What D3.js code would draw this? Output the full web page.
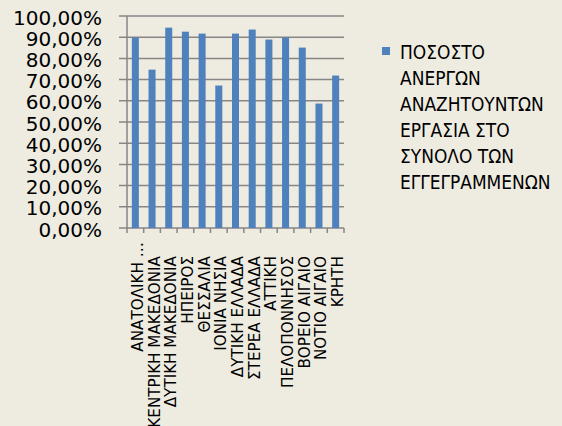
<!DOCTYPE html>
<html>
<head>
<meta charset="utf-8">
<script src="https://cdnjs.cloudflare.com/ajax/libs/d3/7.8.5/d3.min.js"></script>
<style>
  body { margin: 0; background: #eeece1; }
  svg { display: block; }
</style>
</head>
<body>
<div id="chart-area"></div>
<script>

// Data
let regions = ["ΑΝΑΤΟΛΙΚΗ …", "ΚΕΝΤΡΙΚΗ ΜΑΚΕΔΟΝΙΑ", "ΔΥΤΙΚΗ ΜΑΚΕΔΟΝΙΑ", "ΗΠΕΙΡΟΣ", "ΘΕΣΣΑΛΙΑ",
  "ΙΟΝΙΑ ΝΗΣΙΑ", "ΔΥΤΙΚΗ ΕΛΛΑΔΑ", "ΣΤΕΡΕΑ  ΕΛΛΑΔΑ", "ΑΤΤΙΚΗ", "ΠΕΛΟΠΟΝΝΗΣΟΣ",
  "ΒΟΡΕΙΟ ΑΙΓΑΙΟ", "ΝΟΤΙΟ ΑΙΓΑΙΟ", "ΚΡΗΤΗ"];
let shares = [0.898, 0.747, 0.945, 0.926, 0.917, 0.672, 0.917, 0.936, 0.889, 0.898, 0.851, 0.587, 0.719];
let yTicks = [0, 0.1, 0.2, 0.3, 0.4, 0.5, 0.6, 0.7, 0.8, 0.9, 1];
let legendLines = ["ΠΟΣΟΣΤΟ", "ΑΝΕΡΓΩΝ", "ΑΝΑΖΗΤΟΥΝΤΩΝ", "ΕΡΓΑΣΙΑ ΣΤΟ", "ΣΥΝΟΛΟ ΤΩΝ", "ΕΓΓΕΓΡΑΜΜΕΝΩΝ"];

let W = 562, H = 426;
let plot = {left: 127, right: 344, top: 16, bottom: 228};
let gridColor = "#868686";
let barColor = "#4f81bd";
let font = "'DejaVu Sans', sans-serif";
let narrowFont = "'DejaVu Sans Condensed', 'Liberation Sans Narrow', 'DejaVu Sans', sans-serif";

let svg = d3.select("#chart-area")
  .append("svg")
  .attr("width", W)
  .attr("height", H)
  .style("background", "#eeece1");

let greek = d3.formatLocale({decimal: ",", thousands: ".", grouping: [3], currency: ["", "€"]});
let pct = greek.format(".2%");

// Scales
let x = d3.scaleBand()
  .domain(regions)
  .range([plot.left, plot.right])
  .paddingInner(0.58)
  .paddingOuter(0.29);

let y = d3.scaleLinear()
  .domain([0, 1])
  .range([plot.bottom, plot.top]);

// Gridlines + y ticks
svg.append("g")
  .selectAll("line")
  .data(yTicks)
  .enter()
  .append("line")
  .attr("x1", plot.left - 8)
  .attr("x2", plot.right)
  .attr("y1", d => y(d))
  .attr("y2", d => y(d))
  .attr("stroke", gridColor)
  .attr("stroke-width", 1.5);

svg.append("g")
  .selectAll("text")
  .data(yTicks)
  .enter()
  .append("text")
  .attr("x", 102)
  .attr("y", d => y(d) + 8.5)
  .attr("text-anchor", "end")
  .style("font-family", font)
  .style("font-size", "20px")
  .attr("fill", "#000")
  .text(d => pct(d));

// Bars
svg.append("g")
  .selectAll("rect")
  .data(shares)
  .enter()
  .append("rect")
  .attr("x", (d, i) => x(regions[i]))
  .attr("y", d => y(d))
  .attr("width", x.bandwidth())
  .attr("height", d => y(0) - y(d))
  .attr("fill", barColor);

// y axis line
svg.append("line")
  .attr("x1", plot.left).attr("x2", plot.left)
  .attr("y1", plot.top).attr("y2", plot.bottom)
  .attr("stroke", gridColor).attr("stroke-width", 1.5);

// x ticks at category boundaries
let step = x.step();
let bounds = d3.range(regions.length + 1).map(i => plot.left + i * step);
svg.append("g")
  .selectAll("line")
  .data(bounds)
  .enter()
  .append("line")
  .attr("x1", d => d).attr("x2", d => d)
  .attr("y1", plot.bottom).attr("y2", plot.bottom + 5)
  .attr("stroke", gridColor).attr("stroke-width", 1.5);

// x labels via axis
let xAxis = d3.axisBottom(x).tickSize(0).tickPadding(0);
let gx = svg.append("g")
  .attr("transform", "translate(0," + plot.bottom + ")")
  .call(xAxis);
gx.select(".domain").remove();
gx.selectAll("text")
  .attr("transform", "rotate(-90)")
  .attr("text-anchor", "end")
  .attr("x", d => d.indexOf("…") >= 0 ? -14 : -28)
  .attr("y", 7.5)
  .attr("dy", 0)
  .attr("fill", "#000")
  .style("font-family", font)
  .style("font-size", "15.2px");

// Legend
let legend = svg.append("g");
legend.append("rect")
  .attr("x", 382).attr("y", 47)
  .attr("width", 8).attr("height", 8)
  .attr("fill", barColor);
let legendText = legend.selectAll("text")
  .data(legendLines)
  .enter()
  .append("text")
  .attr("x", 400)
  .attr("y", (d, i) => 59 + i * 26)
  .style("font-family", narrowFont)
  .style("font-size", "18px")
  .attr("fill", "#000")
  .text(d => d);

// fit legend font so the first line is about 85px wide
let w0 = legendText.node().getComputedTextLength();
let fs = Math.min(19, 18 * 85 / w0);
legendText.style("font-size", fs + "px");

</script>
</body>
</html>
